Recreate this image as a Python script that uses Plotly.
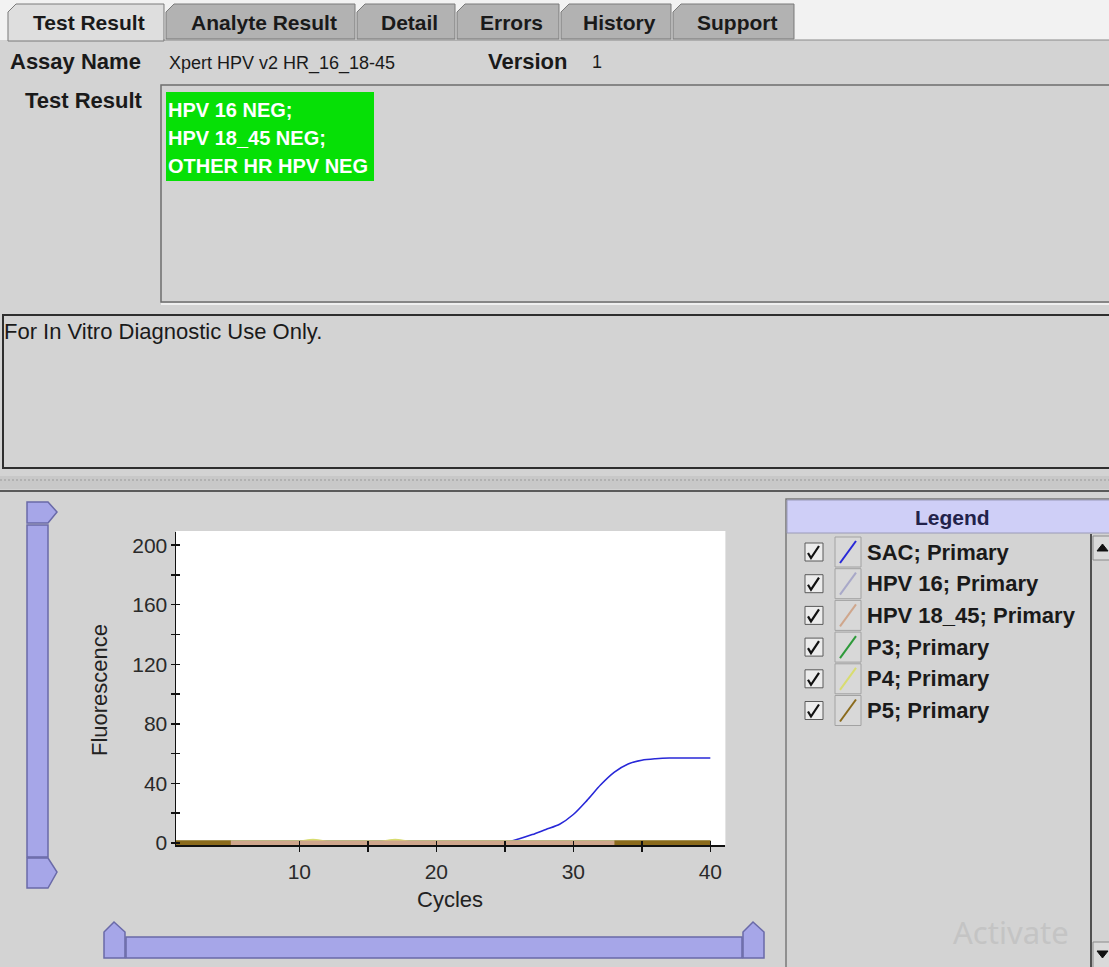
import plotly.graph_objects as go

# ---------------- data ----------------
cycles = [1, 2, 3, 4, 5, 6, 7, 8, 9, 10, 11, 12, 13, 14, 15, 16, 17, 18, 19, 20,
          21, 22, 23, 24, 25, 26, 27, 28, 29, 30, 31, 32, 33, 34, 35, 36, 37, 38, 39, 40]
sac = [0, 0, 0, 0, 0, 0, 0, 0, 0, 0, 0, 0, 0, 0, 0, 0, 0, 0, 0, 0,
       0, 0, 0, 0, 0, 2.5, 5.5, 9, 12.5, 19, 28.5, 39, 47.5, 53, 55.5, 56.5, 57, 57, 57, 57]
hpv16 = [0, 0, 0, 0, 0, 0, 0, 0, 0, 0, 0, 0, 0, 0, 0, 0, 0, 0, 0, 0,
         0, 0, 0, 0, 0, 0, 0, 0, 0, 0, 0, 0, 0, 0, 0, 0, 0, 0, 0, 0]
hpv18_45 = [0, 0, 0, 0, 0, 0, 0, 0, 0, 0, 0, 0, 0, 0, 0, 0, 0, 0, 0, 0,
            0, 0, 0, 0, 0, 0, 0, 0, 0, 0, 0, 0, 0, 0, 0, 0, 0, 0, 0, 0]
p3 = [0, 0, 0, 0, 0, 0, 0, 0, 0, 0, 0, 0, 0, 0, 0, 0, 0, 0, 0, 0,
      0, 0, 0, 0, 0, 0, 0, 0, 0, 0, 0, 0, 0, 0, 0, 0, 0, 0, 0, 0]
p4 = [0, 0, 0, 0, 0, 0, 0, 0, 0, 0, 1.2, 0, 0, 0, 0, 0, 1.2, 0, 0, 0,
      0, 0, 0, 0, 0, 0, 0, 0, 0, 0, 0, 0, 0, 0, 0, 0, 0, 0, 0, 0]
p5 = [0, 0, 0, 0, 0, None, None, None, None, None, None, None, None, None, None, None, None, None, None, None,
      None, None, None, None, None, None, None, None, None, None, None, None, 0, 0, 0, 0, 0, 0, 0, 0]

series_names = ["SAC; Primary", "HPV 16; Primary", "HPV 18_45; Primary",
                "P3; Primary", "P4; Primary", "P5; Primary"]
series_values = [sac, hpv16, hpv18_45, p3, p4, p5]
series_colors = ["#2828d8", "#a8a8c8", "#cfa68c", "#2e9a3a", "#d8dc70", "#8a6a1c"]
draw_order = [0, 1, 3, 4, 2, 5]

x_tickvals = [10, 15, 20, 25, 30, 35, 40]
x_ticktext = ["10", "", "20", "", "30", "", "40"]
y_tickvals = [0, 20, 40, 60, 80, 100, 120, 140, 160, 180, 200]
y_ticktext = ["0", "", "40", "", "80", "", "120", "", "160", "", "200"]

tab_labels = ["Test Result", "Analyte Result", "Detail", "Errors", "History", "Support"]
result_lines = ["HPV 16 NEG;", "HPV 18_45 NEG;", "OTHER HR HPV NEG"]

# ---------------- helpers ----------------
W, H = 1109, 967          # reference pixel space
FIG_H = 976               # figure height (page is captured slightly taller, then fitted to 967)
SANS = "Liberation Sans, Arial, sans-serif"
GRAY = "#d3d3d3"


def px(x):
    return x / W


def py(y):
    return 1 - y / H


shapes = []
annotations = []


def rect(x0, y0, x1, y1, fill, line=None, lw=1):
    shapes.append(dict(type="rect", xref="paper", yref="paper",
                       x0=px(x0), x1=px(x1), y0=py(y1), y1=py(y0),
                       fillcolor=fill,
                       line=dict(color=line if line else fill, width=lw if line else 0),
                       layer="below"))


def poly(points, fill=None, line=None, lw=1, closed=True, layer="below"):
    d = "M " + " L ".join(f"{px(x):.5f},{py(y):.5f}" for x, y in points)
    if closed:
        d += " Z"
    shapes.append(dict(type="path", xref="paper", yref="paper", path=d,
                       fillcolor=fill if fill else "rgba(0,0,0,0)",
                       line=dict(color=line if line else "rgba(0,0,0,0)", width=lw),
                       layer=layer))


def seg(x0, y0, x1, y1, color, lw=1, layer="below"):
    shapes.append(dict(type="line", xref="paper", yref="paper",
                       x0=px(x0), x1=px(x1), y0=py(y0), y1=py(y1),
                       line=dict(color=color, width=lw), layer=layer))


def text(x, y, s, size=16, color="#1a1a1a", family=SANS, bold=False,
         xanchor="left", yanchor="middle", angle=0):
    if bold:
        s = f"<b>{s}</b>"
    annotations.append(dict(x=px(x), y=py(y), xref="paper", yref="paper", text=s,
                            showarrow=False, xanchor=xanchor, yanchor=yanchor,
                            textangle=angle, borderpad=0,
                            font=dict(size=size, color=color, family=family)))


# ---------------- UI frame ----------------
rect(0, 0, W, 40, "#f2f2f2")
rect(0, 40, W, H + 10, GRAY)

tab_x = [8, 166, 357, 457, 561, 673, 796]
for i, lab in enumerate(tab_labels):
    x0, x1 = tab_x[i], tab_x[i + 1] - 2
    sel = (i == 0)
    poly([(x0, 41 if sel else 39), (x0, 12), (x0 + 8, 4), (x1, 4), (x1, 41 if sel else 39)],
         fill="#dedede" if sel else "#b2b2b2", line="#7a7a7a", lw=1)
    text((x0 + x1) / 2 + 3, 22, lab, size=21, bold=True, xanchor="center")
seg(163, 40, W, 40, "#8a8a8a", 1)

text(9, 62, "Assay Name", size=22, bold=True)
text(168, 64, "Xpert HPV v2 HR_16_18-45", size=18)
text(487, 62, "Version", size=22, bold=True)
text(591, 62, "1", size=18)
text(24, 100, "Test Result", size=22, bold=True)

# result box
rect(161, 85, W + 2, 302, GRAY, line="#6e6e6e", lw=1.5)
seg(161, 304, W, 304, "#f8f8f8", 1.5)
rect(166, 92, 374, 181, "#06e006")
for k, line_txt in enumerate(result_lines):
    text(167, 110 + k * 28, line_txt, size=20, color="#ffffff", bold=True)

# note box
rect(3, 315, W + 2, 468, GRAY, line="#2e2e2e", lw=2)
text(3, 331, "For In Vitro Diagnostic Use Only.", size=22)

# divider strip
rect(0, 476, W, 489, "#c8c8c8")
for xx in range(0, W, 4):
    seg(xx, 480, xx + 2, 480, "#9a9a9a", 1)
seg(0, 491, W, 491, "#5a5a5a", 2)

# plot area background (white)
rect(176, 531, 725.4, 845, "#ffffff")

# vertical slider (left)
SL_FILL, SL_LINE = "#a6a6e8", "#6a6aa8"
poly([(27, 502), (48, 502), (57, 512), (48, 523), (27, 523)], fill=SL_FILL, line=SL_LINE, lw=1.5)
rect(27, 525, 48, 857, SL_FILL, line=SL_LINE, lw=1.5)
poly([(27, 858), (48, 858), (57, 872), (48, 888), (27, 888)], fill=SL_FILL, line=SL_LINE, lw=1.5)

# horizontal slider (bottom)
rect(126, 937, 742, 958, SL_FILL, line=SL_LINE, lw=1.5)
poly([(104, 958), (104, 932), (114, 922), (125, 932), (125, 958)], fill=SL_FILL, line=SL_LINE, lw=1.5)
poly([(743, 958), (743, 932), (753, 922), (764, 932), (764, 958)], fill=SL_FILL, line=SL_LINE, lw=1.5)

# legend panel
rect(786, 499, W + 2, H + 12, GRAY, line="#7a7a7a", lw=1.5)
rect(787, 500, W + 2, 533, "#cfcff7", line="#9a9ab8", lw=1)
text(952, 517, "Legend", size=21, color="#22224a", bold=True, xanchor="center")
seg(1091, 534, 1091, H + 12, "#505050", 2)
rect(1093, 536, W + 2, 560, "#dadada", line="#8a8a8a", lw=1)
poly([(1097, 551), (1108, 551), (1102.5, 544)], fill="#111111", line="#111111", lw=1)
rect(1093, 942, W + 2, H + 12, "#dadada", line="#8a8a8a", lw=1)
poly([(1097, 951), (1108, 951), (1102.5, 958)], fill="#111111", line="#111111", lw=1)

for i, (name, col) in enumerate(zip(series_names, series_colors)):
    yc = 552 + i * 31.7
    rect(805, yc - 9, 823, yc + 9, "#ececec", line="#5a5a5a", lw=1)
    poly([(808, yc + 1), (811, yc + 6), (819, yc - 6)], line="#111111", lw=2.2, closed=False)
    rect(835, yc - 15, 861, yc + 15, "#d8d8d8", line="#a2a2a2", lw=1)
    seg(840, yc + 11, 856, yc - 11, col, 2)
    text(866, yc, name, size=22, bold=True)

# axis titles
text(450, 899, "Cycles", size=22, color="#222222", xanchor="center")
text(99, 690, "Fluorescence", size=22, color="#222222", xanchor="center", angle=-90)

# watermark
text(952, 932, "Activate", size=31, color="#c4c4c4", family="Noto Sans, sans-serif")

# ---------------- figure ----------------
fig = go.Figure()
for idx in draw_order:
    width = 1.6 if idx == 0 else 4.5
    fig.add_trace(go.Scatter(x=cycles, y=series_values[idx], mode="lines",
                             name=series_names[idx], connectgaps=False,
                             line=dict(color=series_colors[idx], width=width, shape="spline",
                                       smoothing=0.8),
                             showlegend=False, hoverinfo="skip"))

XDOM = [px(176), px(725.4)]
YDOM = [py(845), py(531.7)]
XR = [1, 41.1]
YR = [-1.5, 209.1]
tickfont = dict(size=21, color="#2a2a2a", family=SANS)

fig.update_layout(
    width=W, height=FIG_H, margin=dict(l=0, r=0, t=0, b=0), autosize=False,
    paper_bgcolor=GRAY, plot_bgcolor="rgba(0,0,0,0)",
    showlegend=False,
    shapes=shapes, annotations=annotations,
    xaxis=dict(domain=XDOM, range=XR, tickmode="array", tickvals=x_tickvals, ticktext=x_ticktext,
               ticks="outside", ticklen=5, tickwidth=1.5, tickcolor="#111111",
               showline=True, linecolor="#111111", linewidth=1.5,
               showgrid=False, zeroline=False, tickfont=tickfont, ticklabelstandoff=2,
               fixedrange=True),
    yaxis=dict(domain=YDOM, range=YR, tickmode="array", tickvals=y_tickvals, ticktext=y_ticktext,
               ticks="inside", ticklen=4, tickwidth=1.5, tickcolor="#111111",
               showline=True, linecolor="#111111", linewidth=1.5,
               showgrid=False, zeroline=False, tickfont=tickfont, ticklabelstandoff=3,
               fixedrange=True),
    xaxis2=dict(domain=XDOM, range=XR, overlaying="x", anchor="y2", tickmode="array",
                tickvals=x_tickvals, ticks="inside", ticklen=4, tickwidth=1.5, tickcolor="#111111",
                showticklabels=False, showline=False, showgrid=False, zeroline=False, fixedrange=True),
    yaxis2=dict(domain=YDOM, range=YR, overlaying="y", anchor="x2", tickmode="array",
                tickvals=y_tickvals, ticks="outside", ticklen=4, tickwidth=1.5, tickcolor="#111111",
                showticklabels=False, showline=False, showgrid=False, zeroline=False, fixedrange=True),
)
fig.add_trace(go.Scatter(x=[], y=[], xaxis="x2", yaxis="y2", showlegend=False))

page_fix = (
    "var s=document.createElement('style');"
    "s.textContent='html,body{margin:0;padding:0;overflow:hidden;background:%s;"
    "font-size:0;line-height:0;}';"
    "document.head.appendChild(s);" % GRAY
)

fig.write_html("out.html", config={"displayModeBar": False, "staticPlot": True},
               default_width="%dpx" % W, default_height="%dpx" % FIG_H,
               post_script=page_fix)
